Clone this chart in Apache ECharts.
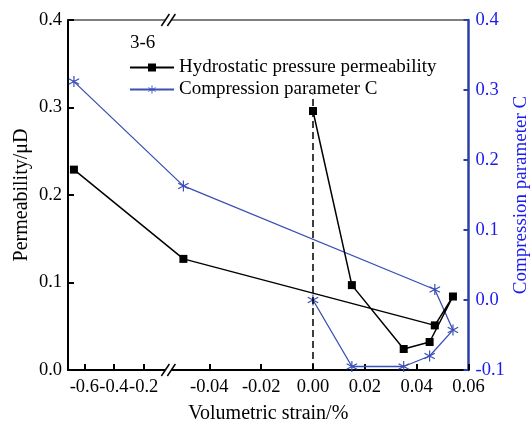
<!DOCTYPE html>
<html><head><meta charset="utf-8">
<script src="https://cdn.jsdelivr.net/npm/echarts@6/dist/echarts.min.js"></script>
<style>html,body{margin:0;padding:0;background:#fff}#c{width:532px;height:423px}</style>
</head><body><div id="c"></div>
<script>
// ---- data ----
const strain        = [-0.67, -0.05, 0.047, 0.054, 0.045, 0.035, 0.015, 0.0];
const permeability  = [0.229, 0.127, 0.051, 0.084, 0.032, 0.024, 0.097, 0.296];
const compressionC  = [0.312, 0.163, 0.015, -0.043, -0.080, -0.095, -0.095, 0.0];
const xTicksLeft    = [-0.6, -0.4, -0.2];
const xTicksRight   = [-0.04, -0.02, 0.00, 0.02, 0.04, 0.06];
const seriesNames   = ['Hydrostatic pressure permeability', 'Compression parameter C'];
const groupLabel    = '3-6';
const dashedRefX    = 0.0;
const dashedRefTop  = 0.315;

// ---- broken x axis: two linear segments on one value axis ----
const LEFT_RANGE  = [-0.71, -0.033];   // real strain shown left of the break
const RIGHT_RANGE = [-0.0558, 0.06];   // real strain shown right of the break
const LEFT_SCALE  = 0.0572;            // compression of the left segment
const BREAK_U = RIGHT_RANGE[0];
const U_MIN = BREAK_U - (LEFT_RANGE[1] - LEFT_RANGE[0]) * LEFT_SCALE;
function toU(x) {
  if (x >= RIGHT_RANGE[0]) return x;
  return BREAK_U - (LEFT_RANGE[1] - x) * LEFT_SCALE;
}
const tickU = [], tickText = [];
xTicksLeft.forEach(v => { tickU.push(toU(v)); tickText.push(v.toFixed(1)); });
xTicksRight.forEach(v => { tickU.push(toU(v)); tickText.push(Math.abs(v) < 1e-9 ? '0.00' : v.toFixed(2)); });
function labelFor(u) {
  let best = 0, bd = Infinity;
  tickU.forEach((t, i) => { const d = Math.abs(t - u); if (d < bd) { bd = d; best = i; } });
  return tickText[best];
}
// labels split over two coincident axes so crowded left labels are not dropped
const labelsA = tickU.filter((u, i) => i !== 1);
const labelsB = [tickU[1]];

const FONT = 'Liberation Serif';
const BLUE_LINE = '#3a4fb5';
const BLUE_AXIS = '#2d3fa8';
const BLUE_TEXT = '#1a1aee';
const STAR = 'path://M9 0L11 0L11 20L9 20ZM0.84 5.87L1.84 4.13L19.16 14.13L18.16 15.87ZM18.16 4.13L19.16 5.87L1.84 15.87L0.84 14.13Z';
const xLabelStyle = { formatter: labelFor, fontFamily: FONT, fontSize: 18.5, color: '#000', margin: 8, showMinLabel: true, showMaxLabel: true, hideOverlap: false };

const chart = echarts.init(document.getElementById('c'));
chart.setOption({
  animation: false,
  backgroundColor: '#fff',
  textStyle: { fontFamily: FONT },
  grid: { left: 68, right: 63.5, top: 20, bottom: 53, outerBoundsMode: 'none', containLabel: false,
          show: true, borderColor: '#000', borderWidth: 1, backgroundColor: 'transparent' },
  legend: {
    orient: 'vertical', left: 129, top: 58, padding: 0, itemGap: 3, itemWidth: 44, itemHeight: 10,
    textStyle: { fontFamily: FONT, fontSize: 19, color: '#000' },
    data: seriesNames
  },
  xAxis: [{
    type: 'value', min: U_MIN, max: 0.06, position: 'bottom',
    name: 'Volumetric strain/%', nameLocation: 'middle', nameGap: 34,
    nameTextStyle: { fontFamily: FONT, fontSize: 20, color: '#000' },
    axisLine: { show: true, onZero: false, lineStyle: { color: '#000', width: 2 } },
    axisTick: { show: true, inside: true, length: 6, customValues: tickU, lineStyle: { color: '#000', width: 2 } },
    axisLabel: Object.assign({ customValues: labelsA }, xLabelStyle),
    splitLine: { show: false }
  }, {
    type: 'value', min: U_MIN, max: 0.06, position: 'bottom',
    axisLine: { show: false, onZero: false }, axisTick: { show: false },
    axisLabel: Object.assign({ customValues: labelsB }, xLabelStyle),
    splitLine: { show: false }
  }],
  yAxis: [{
    type: 'value', min: 0, max: 0.4, interval: 0.1, position: 'left',
    name: 'Permeability/μD', nameLocation: 'middle', nameGap: 36, nameRotate: 90, nameMoveOverlap: false,
    nameTextStyle: { fontFamily: FONT, fontSize: 20, color: '#000' },
    axisLine: { show: true, onZero: false, lineStyle: { color: '#000', width: 2 } },
    axisTick: { show: true, inside: true, length: 6, lineStyle: { color: '#000', width: 2 } },
    axisLabel: { formatter: v => v.toFixed(1), fontFamily: FONT, fontSize: 18.5, color: '#000', margin: 6 },
    splitLine: { show: false }
  }, {
    type: 'value', min: -0.1, max: 0.4, interval: 0.1, position: 'right',
    name: 'Compression parameter C', nameLocation: 'middle', nameGap: 43, nameRotate: 90, nameMoveOverlap: false,
    nameTextStyle: { fontFamily: FONT, fontSize: 19, color: BLUE_TEXT },
    axisLine: { show: true, onZero: false, lineStyle: { color: BLUE_AXIS, width: 2.5 } },
    axisTick: { show: true, inside: true, length: 5, lineStyle: { color: BLUE_AXIS, width: 2 } },
    axisLabel: { formatter: v => v.toFixed(1), fontFamily: FONT, fontSize: 18.5, color: BLUE_TEXT, margin: 7 },
    splitLine: { show: false }
  }],
  series: [{
    name: seriesNames[0], type: 'line', xAxisIndex: 0, yAxisIndex: 0,
    data: strain.map((x, i) => [toU(x), permeability[i]]),
    symbol: 'rect', symbolSize: 8,
    lineStyle: { color: '#000', width: 1.5 },
    itemStyle: { color: '#000' },
    markLine: {
      silent: true, symbol: 'none', label: { show: false },
      lineStyle: { color: '#000', width: 1.5, type: [7, 4] },
      data: [[{ coord: [toU(dashedRefX), 0] }, { coord: [toU(dashedRefX), dashedRefTop] }]]
    },
    z: 3
  }, {
    name: seriesNames[1], type: 'line', xAxisIndex: 0, yAxisIndex: 1,
    data: strain.map((x, i) => [toU(x), compressionC[i]]),
    symbol: STAR, symbolSize: 11,
    lineStyle: { color: BLUE_LINE, width: 1.3 },
    itemStyle: { color: BLUE_LINE },
    z: 2
  }]
});

// break marks and group label
const bx = chart.convertToPixel({ xAxisIndex: 0 }, BREAK_U);
const yTop = chart.convertToPixel({ yAxisIndex: 0 }, 0.4);
const yBot = chart.convertToPixel({ yAxisIndex: 0 }, 0);
function breakMark(y) {
  const h = 6, w = 4, g = 3;
  return [{
    type: 'polygon', z: 100,
    shape: { points: [[bx - g - w, y + h], [bx - g + w, y - h], [bx + g + w, y - h], [bx + g - w, y + h]] },
    style: { fill: '#fff' }
  }, {
    type: 'line', z: 101, shape: { x1: bx - g - w, y1: y + h, x2: bx - g + w, y2: y - h },
    style: { stroke: '#000', lineWidth: 1.5 }
  }, {
    type: 'line', z: 101, shape: { x1: bx + g - w, y1: y + h, x2: bx + g + w, y2: y - h },
    style: { stroke: '#000', lineWidth: 1.5 }
  }];
}
chart.setOption({
  graphic: [].concat(breakMark(yTop), breakMark(yBot), [{
    type: 'text', left: 130, top: 34, z: 100,
    style: { text: groupLabel, fontFamily: FONT, fontSize: 19, fill: '#000' }
  }])
});
</script></body></html>
